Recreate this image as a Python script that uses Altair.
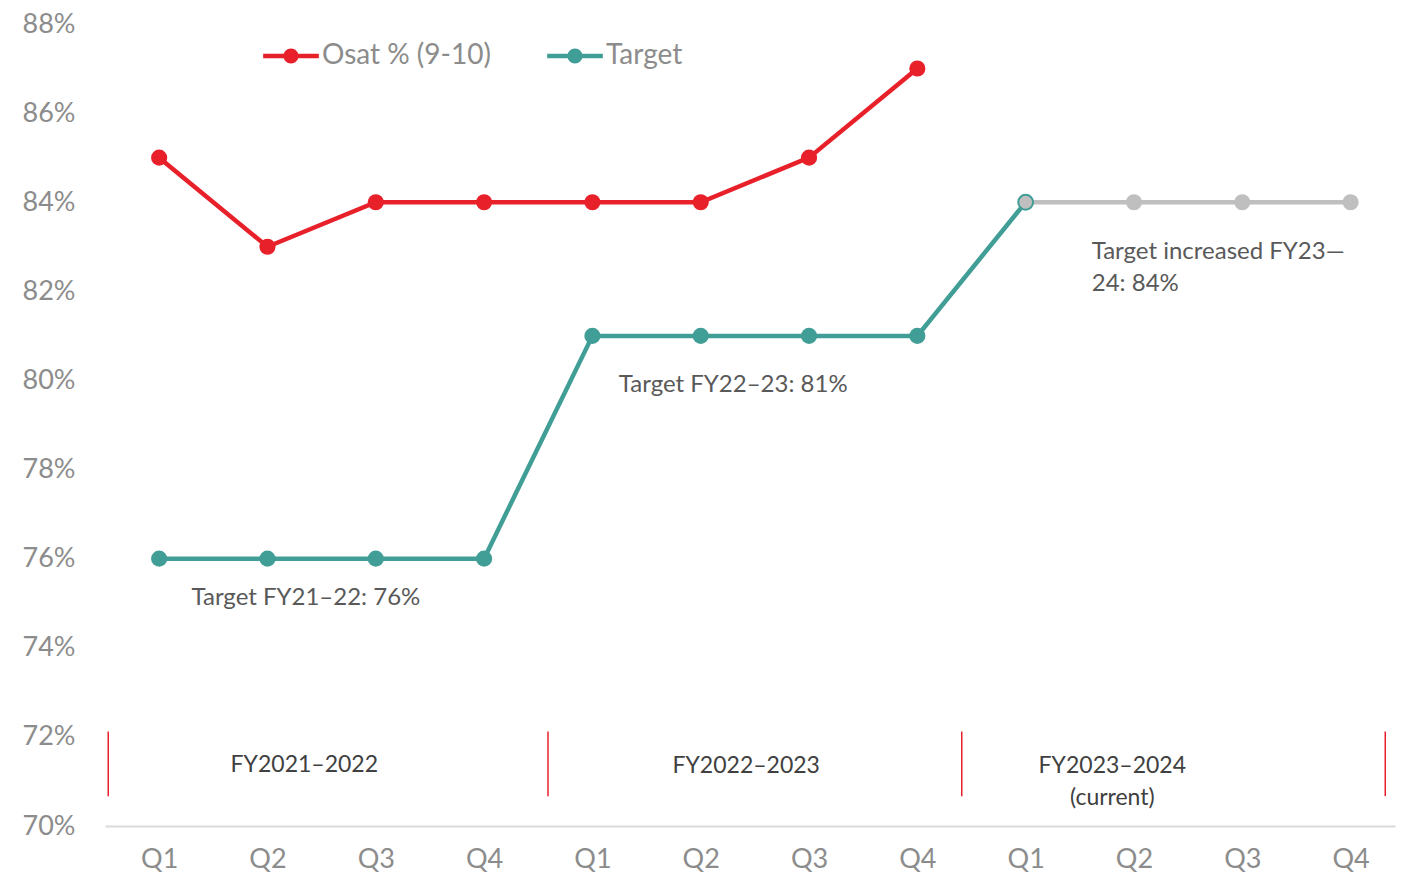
import altair as alt
import pandas as pd

# ---------------- data ----------------
quarters = ["Q1", "Q2", "Q3", "Q4", "Q1", "Q2", "Q3", "Q4", "Q1", "Q2", "Q3", "Q4"]
osat = [85, 83, 84, 84, 84, 84, 85, 87]
target = [76, 76, 76, 76, 81, 81, 81, 81, 84]
target_future = [84, 84, 84, 84]          # quarters 9..12 (grey, planned)
future_start = 8                          # index of first planned quarter
y_ticks = [70, 72, 74, 76, 78, 80, 82, 84, 86, 88]
series_names = ["Osat % (9-10)", "Target"]
series_colors = ["#e8202a", "#419e97"]
future_color = "#bfbfbf"

annot_text = [["Target FY21–22: 76%"], ["Target FY22–23: 81%"], ["Target increased FY23—", "24: 84%"]]
annot_x = [1.355, 5.30, 8.61]
annot_y = [75.11, 79.89, 82.89]
annot_align = ["center", "center", "left"]

period_text = [["FY2021–2022"], ["FY2022–2023"], ["FY2023–2024", "(current)"]]
period_x = [1.34, 5.42, 8.80]
period_y = [71.38, 71.34, 71.34]

divider_x = [-0.47, 3.59, 7.41, 11.32]
divider_top = 72.12
divider_bottom = 70.67

FONT = "Lato"

# ---------------- frames ----------------
rows = []
for i, v in enumerate(osat):
    rows.append({"series": series_names[0], "idx": i, "value": v})
for i, v in enumerate(target):
    rows.append({"series": series_names[1], "idx": i, "value": v})
main_df = pd.DataFrame(rows)
pts_df = main_df[~((main_df["series"] == series_names[1]) & (main_df["idx"] == future_start))]

fut_df = pd.DataFrame({"idx": list(range(future_start, future_start + len(target_future))),
                       "value": target_future})
fut_pts_df = fut_df[fut_df["idx"] > future_start]
fut_first_df = fut_df[fut_df["idx"] == future_start]

ann_df = pd.DataFrame({"text": annot_text, "x": annot_x, "y": annot_y, "anchor": annot_align})
per_df = pd.DataFrame({"text": period_text, "x": period_x, "y": period_y})
div_df = pd.DataFrame({"x": divider_x, "y": [divider_top] * len(divider_x),
                       "y2": [divider_bottom] * len(divider_x)})

label_list = "[" + ",".join("'%s'" % q for q in quarters) + "]"

x_scale = alt.Scale(domain=[-0.5, 11.41], nice=False, zero=False)
y_scale = alt.Scale(domain=[70, 88], nice=False, zero=False)

x_enc = alt.X("idx:Q", scale=x_scale,
              axis=alt.Axis(values=list(range(len(quarters))), labelExpr=label_list + "[datum.value]",
                            title=None, grid=False, ticks=False, domain=True,
                            domainColor="#d9d9d9", domainWidth=2, labelFontSize=27,
                            labelColor="#8c8c8c", labelFont=FONT, labelPadding=20))
y_enc = alt.Y("value:Q", scale=y_scale,
              axis=alt.Axis(values=y_ticks, labelExpr="datum.value + '%'", title=None, grid=False,
                            ticks=False, domain=False, labelFontSize=27, labelColor="#8c8c8c",
                            labelFont=FONT, labelPadding=30, labelFlush=False))

path_sym = ("M-1,-0.08 L1,-0.08 L1,0.08 L-1,0.08 Z "
            "M-0.27,0 A0.27,0.27 0 1,1 0.27,0 A0.27,0.27 0 1,1 -0.27,0 Z")

color_enc = alt.Color("series:N", scale=alt.Scale(domain=series_names, range=series_colors),
                      legend=alt.Legend(title=None, orient="none", legendX=158, legendY=4,
                                        direction="horizontal", symbolType=path_sym, symbolSize=3100,
                                        symbolStrokeWidth=0, symbolOpacity=1, labelFontSize=28,
                                        labelColor="#8c8c8c", labelFont=FONT, labelOffset=3,
                                        labelLimit=400, columnPadding=56, padding=0))

lines = alt.Chart(main_df).mark_line(strokeWidth=4.5).encode(
    x=x_enc, y=y_enc, color=color_enc, detail="series:N")
fut_line = alt.Chart(fut_df).mark_line(strokeWidth=4.5, color=future_color).encode(x="idx:Q", y="value:Q")

points = alt.Chart(pts_df).mark_point(filled=True, size=260, opacity=1).encode(
    x="idx:Q", y="value:Q", color=color_enc)
fut_points = alt.Chart(fut_pts_df).mark_point(filled=True, size=260, opacity=1, color=future_color).encode(
    x="idx:Q", y="value:Q")
fut_first = alt.Chart(fut_first_df).mark_point(filled=True, size=220, opacity=1, fill=future_color,
                                               stroke=series_colors[1], strokeWidth=2).encode(
    x="idx:Q", y="value:Q")

annots_center = alt.Chart(ann_df[ann_df["anchor"] == "center"]).mark_text(
    fontSize=24, font=FONT, color="#595959", baseline="middle", lineHeight=32, align="center").encode(
    x="x:Q", y="y:Q", text="text")
annots_left = alt.Chart(ann_df[ann_df["anchor"] == "left"]).mark_text(
    fontSize=24, font=FONT, color="#595959", baseline="middle", lineHeight=32, align="left").encode(
    x="x:Q", y="y:Q", text="text")

periods = alt.Chart(per_df).mark_text(fontSize=23, font=FONT, color="#404040", baseline="middle",
                                      lineHeight=32, align="center").encode(
    x="x:Q", y="y:Q", text="text")

dividers = alt.Chart(div_df).mark_rule(color="#e8202a", strokeWidth=1.5).encode(
    x="x:Q", y="y:Q", y2="y2:Q")

chart = alt.layer(
    lines, dividers, periods, annots_center, annots_left, fut_line, points, fut_points, fut_first
).properties(
    width=1290, height=802,
    autosize=alt.AutoSizeParams(type="none"),
    padding={"left": 97, "top": 16, "right": 1, "bottom": 47},
).configure_view(stroke=None)

chart.save("out.html", embed_options={"renderer": "svg", "actions": False})
